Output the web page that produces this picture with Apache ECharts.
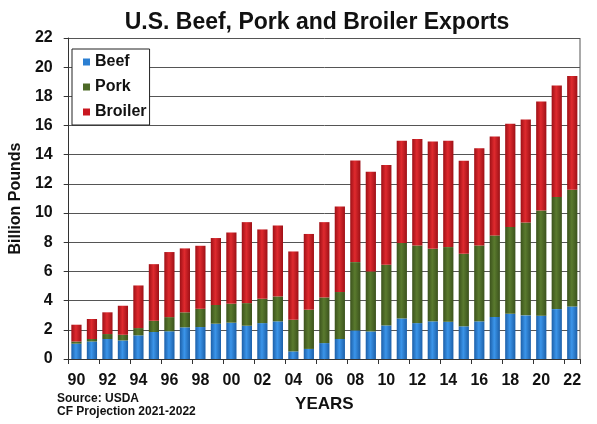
<!DOCTYPE html>
<html>
<head>
<meta charset="utf-8">
<script src="https://cdn.jsdelivr.net/npm/echarts@6/dist/echarts.min.js"></script>
<style>
  html, body { margin: 0; padding: 0; background: #fff; }
  #chart { width: 597px; height: 424px; }
</style>
</head>
<body>
<div id="chart"></div>
<script>
const years = ['90', '91', '92', '93', '94', '95', '96', '97', '98', '99',
  '00', '01', '02', '03', '04', '05', '06', '07', '08', '09',
  '10', '11', '12', '13', '14', '15', '16', '17', '18', '19',
  '20', '21', '22']

// billion pounds
const beef = [1.05, 1.2, 1.37, 1.27, 1.62, 1.85, 1.9, 2.17, 2.19, 2.42,
  2.49, 2.28, 2.46, 2.58, 0.52, 0.69, 1.09, 1.37, 1.96, 1.89,
  2.3, 2.78, 2.46, 2.58, 2.55, 2.24, 2.58, 2.88, 3.1, 2.99,
  2.97, 3.42, 3.6]
const pork = [0.15, 0.17, 0.34, 0.39, 0.5, 0.77, 0.97, 1.03, 1.25, 1.28,
  1.3, 1.55, 1.67, 1.71, 2.17, 2.69, 3.13, 3.22, 4.68, 4.11,
  4.16, 5.17, 5.32, 4.97, 5.12, 4.97, 5.2, 5.59, 5.94, 6.37,
  7.21, 7.68, 8.0]
const broiler = [1.15, 1.37, 1.49, 1.99, 2.92, 3.88, 4.46, 4.38, 4.32, 4.59,
  4.88, 5.55, 4.75, 4.86, 4.68, 5.19, 5.16, 5.86, 6.96, 6.83,
  6.83, 7.0, 7.29, 7.35, 7.28, 6.37, 6.67, 6.78, 7.08, 7.05,
  7.47, 7.64, 7.8]

const font = '"Liberation Sans", Arial, sans-serif'

const chart = echarts.init(document.getElementById('chart'))

function cylinder(edge, mid) {
  return new echarts.graphic.LinearGradient(0, 0, 1, 0, [
    { offset: 0, color: edge },
    { offset: 0.45, color: mid },
    { offset: 1, color: edge },
  ])
}

function barSeries(name, data, edge, mid) {
  return {
    name: name,
    type: 'bar',
    stack: 'total',
    data: data,
    barCategoryGap: '34%',
    itemStyle: { color: cylinder(edge, mid) },
    emphasis: { disabled: true },
  }
}

chart.setOption({
  animation: false,
  textStyle: { fontFamily: font },
  title: {
    text: 'U.S. Beef, Pork and Broiler Exports',
    left: 312,
    textAlign: 'center',
    top: 6,
    textStyle: { fontSize: 23, fontWeight: 'bold', color: '#111', fontFamily: font },
  },
  legend: {
    orient: 'vertical',
    left: 72,
    top: 49,
    padding: [4, 3, 4, 11],
    itemGap: 7,
    itemWidth: 7,
    itemHeight: 7,
    icon: 'rect',
    borderColor: '#222',
    borderWidth: 1,
    backgroundColor: '#fff',
    textStyle: { fontSize: 16, fontWeight: 'bold', color: '#111', fontFamily: font, lineHeight: 18 },
    data: [
      { name: 'Beef', itemStyle: { color: '#2b7fd2' } },
      { name: 'Pork', itemStyle: { color: '#4d6a27' } },
      { name: 'Broiler', itemStyle: { color: '#c9171f' } },
    ],
  },
  grid: { left: 64, right: 17, top: 38, bottom: 65, containLabel: false },
  xAxis: {
    type: 'category',
    data: years,
    name: 'YEARS',
    nameLocation: 'middle',
    nameGap: 37,
    nameTextStyle: { fontSize: 17, fontWeight: 'bold', color: '#111', fontFamily: font },
    axisLine: { lineStyle: { color: '#333' } },
    axisTick: { show: true, length: 5, lineStyle: { color: '#333' } },
    axisLabel: { interval: 1, fontSize: 16, fontWeight: 'bold', color: '#111', margin: 14, fontFamily: font },
  },
  yAxis: {
    type: 'value',
    min: 0,
    max: 22,
    interval: 2,
    name: 'Billion Pounds',
    nameLocation: 'middle',
    nameGap: 40,
    nameTextStyle: { fontSize: 16, fontWeight: 'bold', color: '#111', fontFamily: font },
    axisLine: { show: true, lineStyle: { color: '#333' } },
    axisTick: { show: true, length: 5, lineStyle: { color: '#333' } },
    axisLabel: { fontSize: 16, fontWeight: 'bold', color: '#111', margin: 16, fontFamily: font },
    splitLine: { lineStyle: { color: '#555', width: 1 } },
  },
  graphic: [
    {
      type: 'line',
      shape: { x1: 580, y1: 38, x2: 580, y2: 359 },
      style: { stroke: '#555', lineWidth: 1 },
    },
    {
      type: 'text',
      left: 57,
      top: 392,
      style: {
        text: 'Source: USDA\nCF Projection 2021-2022',
        font: 'bold 12px ' + font,
        fill: '#111',
        lineHeight: 13,
      },
    },
  ],
  series: [
    barSeries('Beef', beef, '#1c5fa8', '#3b95ea'),
    barSeries('Pork', pork, '#3b521c', '#5a7a2e'),
    barSeries('Broiler', broiler, '#9e1016', '#df2a2e'),
  ],
})

window.addEventListener('resize', () => {
  chart.resize()
})
</script>
</body>
</html>
